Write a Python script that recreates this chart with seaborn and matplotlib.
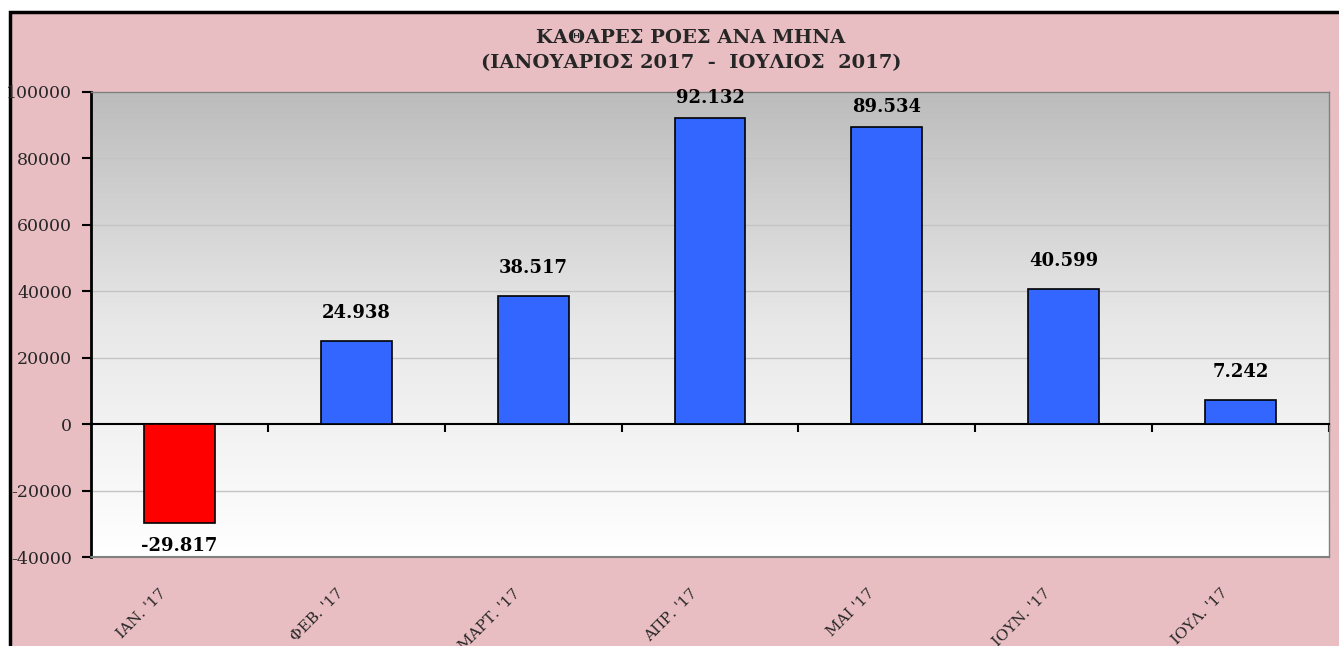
import numpy as np
import pandas as pd
import matplotlib
matplotlib.use("Agg")
import matplotlib.pyplot as plt
from matplotlib.patches import Rectangle
from matplotlib.transforms import ScaledTranslation
import seaborn as sns

months = ["ΙΑΝ. '17", "ΦΕΒ. '17", "ΜΑΡΤ. '17", "ΑΠΡ. '17", "ΜΑΙ '17", "ΙΟΥΝ. '17", "ΙΟΥΛ. '17"]
net_flows = [-29817, 24938, 38517, 92132, 89534, 40599, 7242]
y_ticks = [-40000, -20000, 0, 20000, 40000, 60000, 80000, 100000]
title_lines = ["ΚΑΘΑΡΕΣ ΡΟΕΣ ΑΝΑ ΜΗΝΑ", "(ΙΑΝΟΥΑΡΙΟΣ 2017  -  ΙΟΥΛΙΟΣ  2017)"]

sns.set_theme(style="white")
plt.rcParams['font.family'] = ['DejaVu Serif']

W, H = 1339, 646
fig = plt.figure(figsize=(W / 100, H / 100), dpi=100)
fig.patch.set_facecolor("white")
# pink framed background
bg = Rectangle((10 / W, -0.01), 1.0, 1.01 - 12 / H, transform=fig.transFigure,
               facecolor="#e8bec2", edgecolor="black", linewidth=2.5, zorder=-10)
fig.add_artist(bg)

ax = fig.add_axes([91 / W, 1 - 557 / H, (1329 - 91) / W, (557 - 92) / H])
ax.set_zorder(1)

df = pd.DataFrame({"month": months, "value": net_flows})
palette = ["#ff0000" if v < 0 else "#3366ff" for v in net_flows]
sns.barplot(data=df, x="month", y="value", hue="month", palette=palette, legend=False,
            width=0.4, edgecolor="black", linewidth=1.2, saturation=1, ax=ax, zorder=3)

# gradient background inside plot area
grad = np.linspace(0, 1, 256).reshape(-1, 1)
cmap = matplotlib.colors.LinearSegmentedColormap.from_list("g", ["#ffffff", "#e8e8e8", "#bcbcbc"])
ax.imshow(grad, extent=[0, 1, 0, 1], transform=ax.transAxes, cmap=cmap, aspect="auto",
          origin="lower", zorder=0)
ax.set_xlim(-0.5, len(months) - 0.5)
ax.set_ylim(-40000, 100000)

for t in y_ticks[1:-1]:
    if t != 0:
        ax.axhline(t, color="#c4c4c4", linewidth=1, zorder=1)

ax.set_yticks(y_ticks)
ax.set_yticklabels([str(t) for t in y_ticks], fontsize=12.5)
ax.tick_params(axis="y", direction="out", length=6.5, width=1.5, color="black", left=True, pad=7)

# x axis on zero line with boundary ticks
ax.spines["bottom"].set_position(("data", 0))
ax.spines["bottom"].set_color("black")
ax.spines["bottom"].set_linewidth(1.5)
ax.spines["left"].set_color("black")
ax.spines["left"].set_linewidth(2)
for s in ["top", "right"]:
    ax.spines[s].set_color("#808080")
    ax.spines[s].set_linewidth(1)
ax.set_xticks(np.arange(len(months)))
ax.set_xticklabels([])
ax.tick_params(axis="x", which="major", length=0)
ax.set_xticks(np.arange(len(months)) + 0.5, minor=True)
ax.tick_params(axis="x", which="minor", direction="out", length=6, width=1.5, color="black", bottom=True)
ax.set_xlabel("")
ax.set_ylabel("")

# bottom frame line of plot area
ax.plot([0, 1], [0, 0], transform=ax.transAxes, color="#808080", linewidth=1.5, zorder=5, clip_on=False)

sec = ax.secondary_xaxis("bottom")
sec.set_xticks(np.arange(len(months)))
sec.set_xticklabels(months, rotation=45, ha="right", rotation_mode="anchor", fontsize=11)
sec.tick_params(axis="x", length=0, pad=21)
sec.spines["bottom"].set_visible(False)
shift = ScaledTranslation(-20 / 100, 0, fig.dpi_scale_trans)
for lbl in sec.get_xticklabels():
    lbl.set_transform(lbl.get_transform() + shift)

for i, v in enumerate(net_flows):
    lab = f"{v:,}".replace(",", ".")
    if v >= 0:
        off = 14 if v < 85000 else 8
        ax.annotate(lab, (i, v), xytext=(0, off), textcoords="offset points", ha="center",
                    va="bottom", fontsize=13, fontweight="bold", color="black", zorder=6)
    else:
        ax.annotate(lab, (i, v), xytext=(0, -10), textcoords="offset points", ha="center",
                    va="top", fontsize=13, fontweight="bold", color="black", zorder=6)

fig.text(0.516, 1 - 38 / H, title_lines[0], ha="center", va="center", fontsize=14,
         fontweight="bold", family=["DejaVu Serif"])
fig.text(0.516, 1 - 63 / H, title_lines[1], ha="center", va="center", fontsize=14,
         fontweight="bold", family=["DejaVu Serif"])

fig.savefig("out.png", dpi=100, facecolor=fig.get_facecolor())
